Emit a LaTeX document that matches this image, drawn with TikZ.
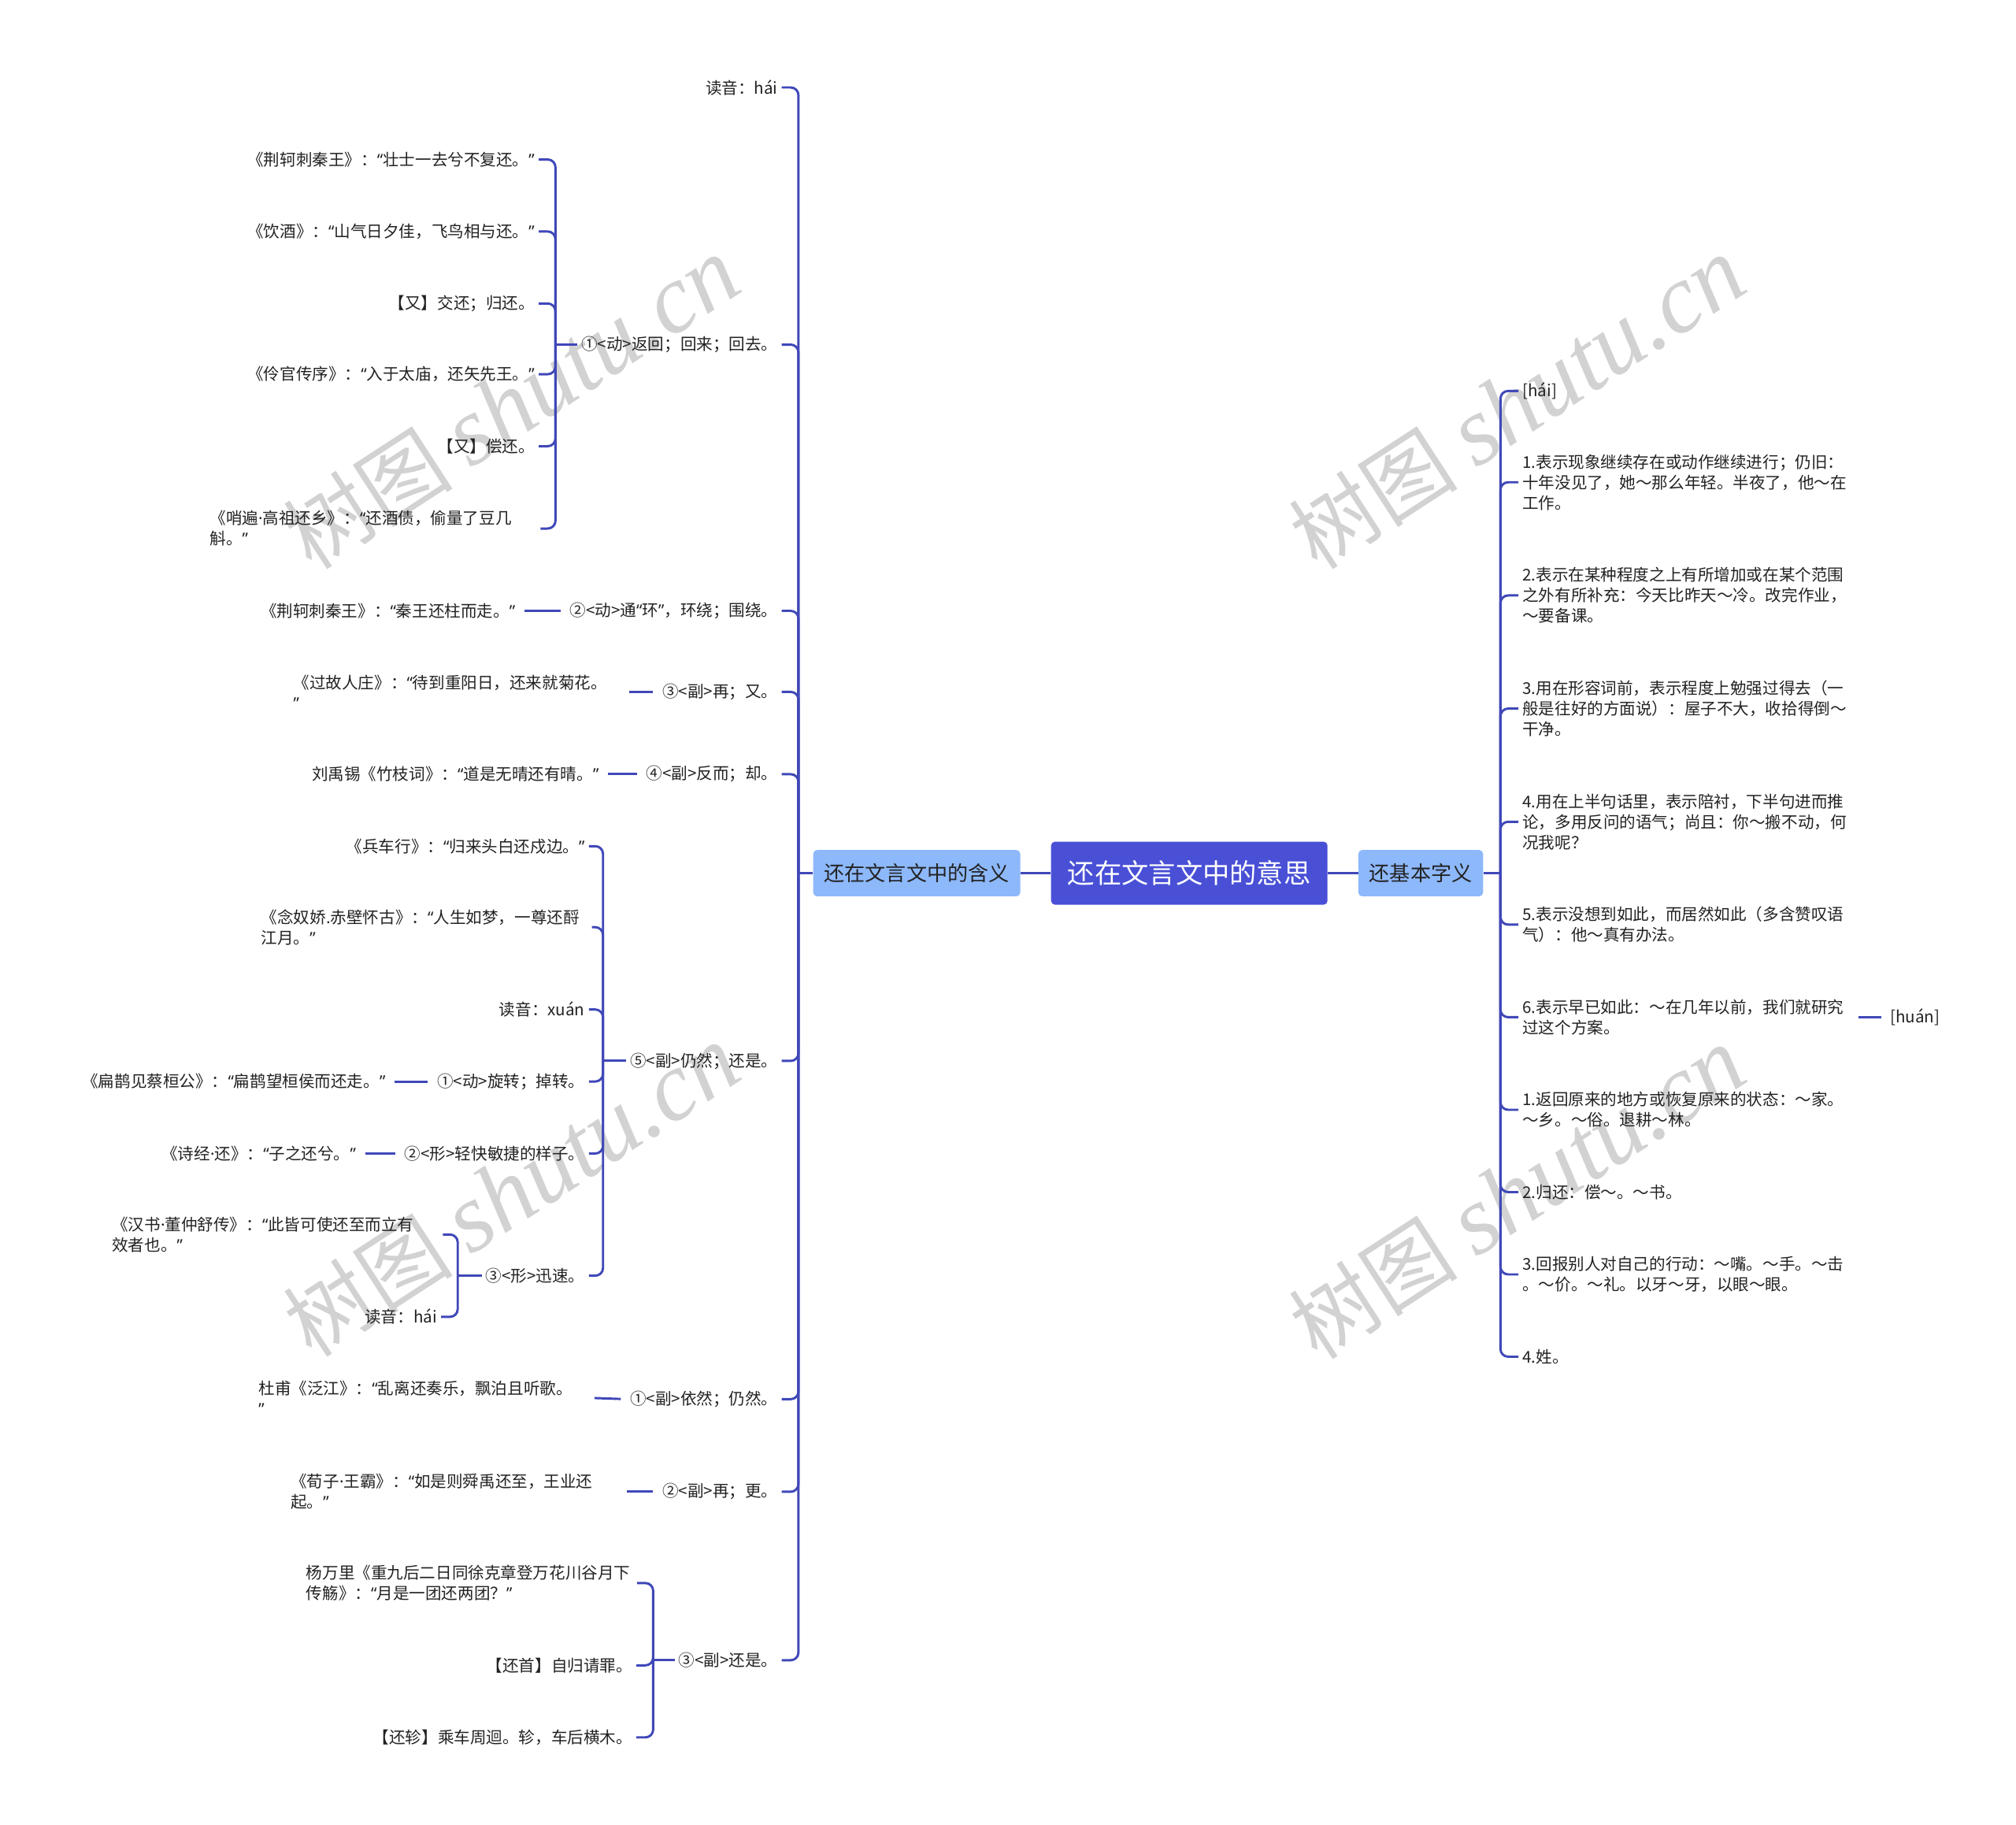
\documentclass[tikz,border=0pt]{standalone}
\usepackage{fontspec}
\setmainfont{Noto Sans CJK SC}
\newfontfamily\wmlatin{Liberation Serif}
\newfontfamily\qf{Noto Sans}
\newcommand\oq{{\qf “}}
\newcommand\cq{{\qf ”}}
\newcommand\md{{\qf ·}}
\usetikzlibrary{calc}
\definecolor{linec}{RGB}{64,72,184}
\definecolor{rootc}{RGB}{73,80,214}
\definecolor{mainc}{RGB}{141,184,250}
\definecolor{txtc}{RGB}{34,34,34}
\definecolor{wmc}{RGB}{210,210,210}
\tikzset{
  leaf/.style={text=txtc, font=\fontsize{12.6}{16}\selectfont, inner xsep=3pt, inner ysep=2pt},
  lleaf/.style={leaf, anchor=east},
  rleaf/.style={leaf, anchor=west},
  wrapL/.style={leaf, anchor=west, text width=254pt, align=left},
  wrapR/.style={leaf, anchor=west, text width=254pt, align=left},
  conn/.style={draw=linec, line width=1.8pt},
  elbow/.style={conn, rounded corners=6pt},
  conn1/.style={conn, shorten <=4pt, shorten >=4pt},
  rootbox/.style={fill=rootc, text=white, rounded corners=3pt, minimum width=215pt, minimum height=49pt, font=\fontsize{21}{24}\selectfont, inner sep=0pt},
  mainbox/.style={fill=mainc, text=txtc, rounded corners=3pt, minimum height=36pt, font=\fontsize{16}{19}\selectfont, inner sep=0pt},
  wmark/.style={text=wmc, rotate=33, font=\fontsize{66}{76}\selectfont, inner sep=0pt}
}
\begin{document}
\begin{tikzpicture}[x=1pt,y=-1pt]
\fill[white] (0,0) rectangle (1568,1419);
\useasboundingbox (0,0) rectangle (1568,1419);

% watermarks
\node[wmark] (wm1) at (398,314) {树图 {\wmlatin\itshape\fontsize{76}{86}\selectfont shutu.cn}};
\node[wmark] (wm2) at (1180,314) {树图 {\wmlatin\itshape\fontsize{76}{86}\selectfont shutu.cn}};
\node[wmark] (wm3) at (398,926) {树图 {\wmlatin\itshape\fontsize{76}{86}\selectfont shutu.cn}};
\node[wmark] (wm4) at (1180,928) {树图 {\wmlatin\itshape\fontsize{76}{86}\selectfont shutu.cn}};

% main nodes
\node[rootbox] (root) at (925,679) {还在文言文中的意思};
\node[mainbox, minimum width=161pt] (Lmain) at (713,679) {还在文言文中的含义};
\node[mainbox, minimum width=97pt] (Rmain) at (1105,679) {还基本字义};
\draw[conn] (Lmain.east) -- (root.west);
\draw[conn] (root.east) -- (Rmain.west);

% left level 2
\node[lleaf] (L1) at (608,68) {读音：hái};
\node[lleaf] (L2) at (608,268) {①<动>返回；回来；回去。};
\node[lleaf] (L3) at (608,475) {②<动>通\oq 环\cq ，环绕；围绕。};
\node[lleaf] (L4) at (608,538) {③<副>再；又。};
\node[lleaf] (L5) at (608,602) {④<副>反而；却。};
\node[lleaf] (L6) at (608,825) {⑤<副>仍然；还是。};
\node[lleaf] (L7) at (608,1088) {①<副>依然；仍然。};
\node[lleaf] (L8) at (608,1160) {②<副>再；更。};
\node[lleaf] (L9) at (608,1291) {③<副>还是。};
\coordinate (jL) at (621,679);
\draw[conn] (Lmain.west) -- (jL);
\foreach \c in {L1,L2,L3,L4,L5,L6,L7,L8,L9} \draw[elbow] (jL) |- (\c.east);

% L2 children
\node[lleaf] (L2a) at (419,124) {《荆轲刺秦王》：\oq 壮士一去兮不复还。\cq};
\node[lleaf] (L2b) at (419,180) {《饮酒》：\oq 山气日夕佳，飞鸟相与还。\cq};
\node[lleaf] (L2c) at (419,236) {【又】交还；归还。};
\node[lleaf] (L2d) at (419,291) {《伶官传序》：\oq 入于太庙，还矢先王。\cq};
\node[lleaf] (L2e) at (419,347) {【又】偿还。};
\node[wrapL] (L2f) at (160,411) {《哨遍\md 高祖还乡》：\oq 还酒债，偷量了豆几\\斛。\cq};
\coordinate (jL2) at (432,268);
\draw[conn] (L2.west) -- (jL2);
\foreach \c in {L2a,L2b,L2c,L2d,L2e,L2f} \draw[elbow] (jL2) |- (\c.east);

% L3, L4, L5 children
\node[lleaf] (L3a) at (404,475) {《荆轲刺秦王》：\oq 秦王还柱而走。\cq};
\draw[conn1] (L3a.east) -- (L3.west);
\node[wrapL] (L4a) at (225,538) {《过故人庄》：\oq 待到重阳日，还来就菊花。\\\cq};
\draw[conn1] (L4a.east) -- (L4.west);
\node[lleaf] (L5a) at (469,602) {刘禹锡《竹枝词》：\oq 道是无晴还有晴。\cq};
\draw[conn1] (L5a.east) -- (L5.west);

% L6 children
\node[lleaf] (L6a) at (458,658) {《兵车行》：\oq 归来头白还戍边。\cq};
\node[wrapL] (L6b) at (200,721) {《念奴娇.赤壁怀古》：\oq 人生如梦，一尊还酹\\江月。\cq};
\node[lleaf] (L6c) at (458,785) {读音：xuán};
\node[lleaf] (L6d) at (458,841) {①<动>旋转；掉转。};
\node[lleaf] (L6e) at (458,897) {②<形>轻快敏捷的样子。};
\node[lleaf] (L6f) at (458,992) {③<形>迅速。};
\coordinate (jL6) at (469,825);
\draw[conn] (L6.west) -- (jL6);
\foreach \c in {L6a,L6b,L6c,L6d,L6e,L6f} \draw[elbow] (jL6) |- (\c.east);

\node[lleaf] (L6d1) at (303,841) {《扁鹊见蔡桓公》：\oq 扁鹊望桓侯而还走。\cq};
\draw[conn1] (L6d1.east) -- (L6d.west);
\node[lleaf] (L6e1) at (280,897) {《诗经\md 还》：\oq 子之还兮。\cq};
\draw[conn1] (L6e1.east) -- (L6e.west);

\node[wrapL] (L6f1) at (84,960) {《汉书\md 董仲舒传》：\oq 此皆可使还至而立有\\效者也。\cq};
\node[lleaf] (L6f2) at (343,1024) {读音：hái};
\coordinate (jL6f) at (356,992);
\draw[conn] (L6f.west) -- (jL6f);
\foreach \c in {L6f1,L6f2} \draw[elbow] (jL6f) |- (\c.east);

% L7, L8 children
\node[wrapL] (L7a) at (198,1087) {杜甫《泛江》：\oq 乱离还奏乐，飘泊且听歌。\\\cq};
\draw[conn1] (L7a.east) -- (L7.west);
\node[wrapL] (L8a) at (223,1160) {《荀子\md 王霸》：\oq 如是则舜禹还至，王业还\\起。\cq};
\draw[conn1] (L8a.east) -- (L8.west);

% L9 children
\node[wrapL] (L9a) at (235,1231) {杨万里《重九后二日同徐克章登万花川谷月下\\传觞》：\oq 月是一团还两团？\cq};
\node[lleaf] (L9b) at (495,1295) {【还首】自归请罪。};
\node[lleaf] (L9c) at (495,1351) {【还轸】乘车周迴。轸，车后横木。};
\coordinate (jL9) at (508,1291);
\draw[conn] (L9.west) -- (jL9);
\foreach \c in {L9a,L9b,L9c} \draw[elbow] (jL9) |- (\c.east);

% right side
\node[rleaf] (R0) at (1181,304) {[hái]};
\node[wrapR] (R1) at (1181,375) {1.表示现象继续存在或动作继续进行；仍旧：\\十年没见了，她～那么年轻。半夜了，他～在\\工作。};
\node[wrapR] (R2) at (1181,463) {2.表示在某种程度之上有所增加或在某个范围\\之外有所补充：今天比昨天～冷。改完作业，\\～要备课。};
\node[wrapR] (R3) at (1181,551) {3.用在形容词前，表示程度上勉强过得去（一\\般是往好的方面说）：屋子不大，收拾得倒～\\干净。};
\node[wrapR] (R4) at (1181,639) {4.用在上半句话里，表示陪衬，下半句进而推\\论，多用反问的语气；尚且：你～搬不动，何\\况我呢？};
\node[wrapR] (R5) at (1181,719) {5.表示没想到如此，而居然如此（多含赞叹语\\气）：他～真有办法。};
\node[wrapR] (R6) at (1181,791) {6.表示早已如此：～在几年以前，我们就研究\\过这个方案。};
\node[wrapR] (R7) at (1181,863) {1.返回原来的地方或恢复原来的状态：～家。\\～乡。～俗。退耕～林。};
\node[rleaf] (R8) at (1181,927) {2.归还：偿～。～书。};
\node[wrapR] (R9) at (1181,991) {3.回报别人对自己的行动：～嘴。～手。～击\\。～价。～礼。以牙～牙，以眼～眼。};
\node[rleaf] (R10) at (1181,1055) {4.姓。};
\coordinate (jR) at (1167,679);
\draw[conn] (Rmain.east) -- (jR);
\foreach \c in {R0,R1,R2,R3,R4,R5,R6,R7,R8,R9,R10} \draw[elbow] (jR) |- (\c.west);

\node[rleaf] (R6h) at (1467,791) {[huán]};
\draw[conn1] (R6.east) -- (R6h.west);
\end{tikzpicture}
\end{document}
